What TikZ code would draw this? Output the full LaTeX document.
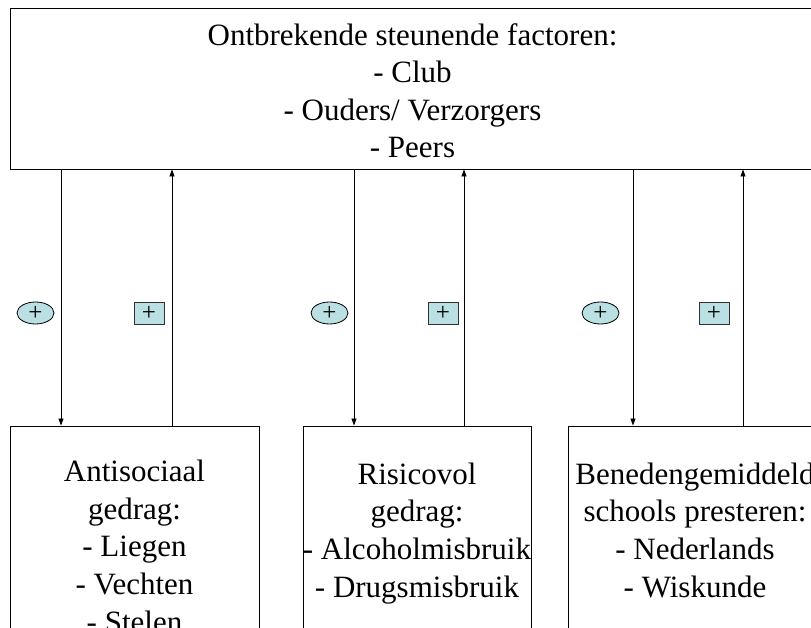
\documentclass[tikz,border=0pt]{standalone}
\usepackage{fontspec}
\setmainfont{Liberation Serif}
\usetikzlibrary{arrows.meta,shapes.geometric}
\definecolor{signfill}{RGB}{187,224,227}
\definecolor{sqdraw}{RGB}{50,50,50}
\tikzset{
  box/.style={draw=black, line width=0.9pt, rectangle, inner sep=0pt},
  boxtext/.style={align=center, inner sep=0pt, font=\fontsize{31}{37.6}\selectfont},
  link/.style={line width=0.8pt, -{Triangle[length=7pt,width=5pt]}},
  oval/.style={ellipse, draw=black, line width=0.8pt, fill=signfill, minimum width=37pt, minimum height=22pt, inner sep=0pt, font=\fontsize{25}{25}\selectfont},
  sq/.style={rectangle, draw=sqdraw, line width=0.8pt, fill=signfill, minimum width=30pt, minimum height=22pt, inner sep=0pt, font=\fontsize{25}{25}\selectfont}
}
\begin{document}
\begin{tikzpicture}[x=1pt,y=-1pt]
\useasboundingbox (0,0) rectangle (811,628);
\fill[white] (0,0) rectangle (811,628);
\clip (0,0) rectangle (811,628);
% boxes
\node[box, minimum width=805pt, minimum height=161pt] (top) at (412.5,88.5) {};
\node[box, minimum width=249pt, minimum height=300pt] (b1) at (134.5,576) {};
\node[box, minimum width=228pt, minimum height=300pt] (b2) at (417,576) {};
\node[box, minimum width=254pt, minimum height=300pt] (b3) at (695,576) {};
% texts (anchored at the baseline of the last line)
\node[boxtext, anchor=base] (ttop) at (412.5,158) {Ontbrekende steunende factoren:\\- Club\\- Ouders/ Verzorgers\\- Peers};
\node[boxtext, anchor=base] (t1) at (134.5,632) {Antisociaal\\gedrag:\\- Liegen\\- Vechten\\- Stelen};
\node[boxtext, anchor=base] (t2) at (417,597) {Risicovol\\gedrag:\\- Alcoholmisbruik\\- Drugsmisbruik};
\node[boxtext, anchor=base] (t3) at (695,597) {Benedengemiddeld\\schools presteren:\\- Nederlands\\- Wiskunde};
% connector x positions
\coordinate (x1) at (61,0);
\coordinate (x2) at (172,0);
\coordinate (x3) at (354,0);
\coordinate (x4) at (464,0);
\coordinate (x5) at (633,0);
\coordinate (x6) at (743,0);
\draw[link] (top.south -| x1) -- (b1.north -| x1);
\draw[link] (b1.north -| x2) -- (top.south -| x2);
\draw[link] (top.south -| x3) -- (b2.north -| x3);
\draw[link] (b2.north -| x4) -- (top.south -| x4);
\draw[link] (top.south -| x5) -- (b3.north -| x5);
\draw[link] (b3.north -| x6) -- (top.south -| x6);
% signs
\node[oval] (o1) at (35.5,313) {+};
\node[sq] (s1) at (149,313) {+};
\node[oval] (o2) at (329.5,313) {+};
\node[sq] (s2) at (443,313) {+};
\node[oval] (o3) at (600.5,313) {+};
\node[sq] (s3) at (714,313) {+};
\end{tikzpicture}
\end{document}
